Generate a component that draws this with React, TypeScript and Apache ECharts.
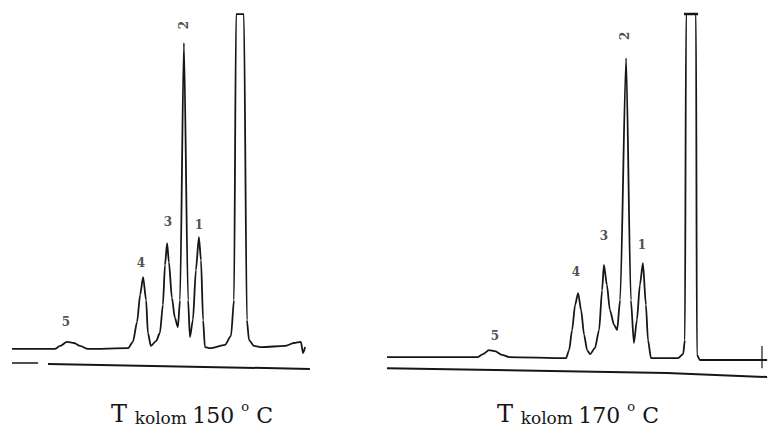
import React, { useEffect, useRef } from "react";
import * as echarts from "echarts";

// Retention time (min) / detector signal (relative units)
const trace150: [number, number][] = [
  [0, 8.4], [1.43, 8.4], [1.6, 9.2], [1.83, 10.3], [2.07, 10.0], [2.27, 9.2], [2.53, 8.4],
  [3.87, 8.6], [4.03, 10.3], [4.17, 15.7], [4.27, 23.0], [4.37, 27.8], [4.47, 21.6], [4.53, 12.7],
  [4.63, 9.2], [4.8, 10.5], [4.93, 12.7], [5.03, 20.3], [5.1, 31.1], [5.17, 37.0], [5.23, 31.9],
  [5.33, 22.2], [5.43, 16.8], [5.53, 14.3], [5.6, 21.6], [5.73, 91.1],
  [5.87, 21.6], [5.93, 11.6], [6.03, 16.2], [6.13, 29.7], [6.23, 38.6], [6.3, 32.4], [6.37, 16.2],
  [6.43, 8.9], [6.6, 8.6], [7.1, 9.5], [7.3, 11.9], [7.4, 21.6], [7.47, 98.9],
  [7.73, 98.9], [7.83, 16.2], [7.9, 10.8], [8.07, 9.2], [8.33, 8.9], [9.1, 9.2],
  [9.4, 10.0], [9.63, 10.3], [9.7, 7.3], [9.77, 8.9],
];
const base150: [number, number][] = [[1.2, 4.3], [9.93, 3.0]];
const base150Stub: [number, number][] = [[0, 4.6], [0.87, 4.6]];

const trace170: [number, number][] = [
  [0, 6.2], [3.03, 6.2], [3.2, 7.0], [3.4, 8.1], [3.6, 7.8], [3.83, 6.8], [4.07, 6.2],
  [5.97, 5.9], [6.07, 8.1], [6.17, 13.5], [6.27, 20.3], [6.37, 23.5], [6.47, 18.9], [6.57, 12.2],
  [6.67, 8.1], [6.77, 7.0], [6.93, 8.6], [7.07, 13.5], [7.17, 24.3], [7.23, 31.1], [7.33, 25.7],
  [7.43, 18.9], [7.57, 14.9], [7.67, 13.5], [7.77, 21.6], [7.97, 87.0],
  [8.13, 21.6], [8.23, 10.0], [8.33, 16.2], [8.43, 25.7], [8.53, 31.6], [8.63, 20.3], [8.7, 10.8],
  [8.8, 5.9], [9.7, 5.9], [9.87, 7.0], [9.93, 10.8], [9.97, 98.9], [10.3, 98.9],
  [10.33, 6.8], [10.43, 5.4], [12.67, 5.4],
];
const cap170: [number, number][] = [[9.9, 98.9], [10.37, 98.9]];
const tick170: [number, number][] = [[12.5, 9.2], [12.5, 3.2]];
const base170: [number, number][] = [[0, 3.2], [9.33, 1.9], [12.67, 0.8]];

// Peak numbers and where they are written
const peakNames = ["5", "4", "3", "2", "1"];
const peakLabelPos150: [number, number][] = [[1.8, 15.7], [4.3, 31.6], [5.2, 42.7], [5.73, 95.9], [6.23, 41.9]];
const peakLabelPos170: [number, number][] = [[3.6, 11.9], [6.3, 29.2], [7.23, 38.9], [7.93, 93.0], [8.5, 36.5]];

const titles = [
  { temp: "150", x: 192 },
  { temp: "170", x: 578 },
];

const INK = "#161616";

function lineSeries(data: [number, number][], idx: number, width: number, smooth: number | boolean) {
  return {
    type: "line",
    xAxisIndex: idx,
    yAxisIndex: idx,
    data,
    symbol: "none",
    smooth,
    smoothMonotone: "x",
    lineStyle: { color: INK, width },
    silent: true,
  };
}

function labelSeries(pos: [number, number][], idx: number) {
  return {
    type: "scatter",
    xAxisIndex: idx,
    yAxisIndex: idx,
    symbolSize: 1,
    itemStyle: { color: "rgba(0,0,0,0)" },
    silent: true,
    data: pos.map((p, i) => ({
      value: p,
      name: peakNames[i],
      label: { rotate: peakNames[i] === "2" ? 90 : 0 },
    })),
    label: {
      show: true,
      position: "inside",
      formatter: (p: any) => p.name,
      fontFamily: "DejaVu Serif",
      fontSize: 12,
      fontWeight: "bold",
      color: "#222",
    },
  };
}

export default function App() {
  const ref = useRef<HTMLDivElement>(null);
  useEffect(() => {
    if (!ref.current) return;
    const chart = echarts.init(ref.current, undefined, { renderer: "svg" });
    chart.setOption({
      animation: false,
      backgroundColor: "#ffffff",
      grid: [
        { left: 12, top: 10, width: 300, height: 370 },
        { left: 387, top: 10, width: 381, height: 370 },
      ],
      xAxis: [
        { type: "value", gridIndex: 0, min: 0, max: 10, show: false },
        { type: "value", gridIndex: 1, min: 0, max: 12.7, show: false },
      ],
      yAxis: [
        { type: "value", gridIndex: 0, min: 0, max: 100, show: false },
        { type: "value", gridIndex: 1, min: 0, max: 100, show: false },
      ],
      series: [
        lineSeries(trace150, 0, 1.8, 0.25),
        lineSeries(base150, 0, 2, false),
        lineSeries(base150Stub, 0, 1.5, false),
        labelSeries(peakLabelPos150, 0),
        lineSeries(trace170, 1, 1.8, 0.25),
        lineSeries(cap170, 1, 2.4, false),
        lineSeries(tick170, 1, 1.2, false),
        lineSeries(base170, 1, 2, false),
        labelSeries(peakLabelPos170, 1),
      ],
      graphic: titles.map((t) => ({
        type: "text",
        x: t.x,
        y: 426,
        style: {
          text: `{t|T }{k|kolom }{n|${t.temp} }{d|o}{n| C}`,
          align: "center",
          verticalAlign: "bottom",
          fill: INK,
          fontFamily: "DejaVu Serif",
          rich: {
            t: { fontSize: 24, fontFamily: "DejaVu Serif", fill: INK, verticalAlign: "bottom", lineHeight: 26 },
            k: { fontSize: 17, fontFamily: "DejaVu Serif", fill: INK, verticalAlign: "bottom", lineHeight: 26 },
            n: { fontSize: 22, fontFamily: "DejaVu Serif", fill: INK, verticalAlign: "bottom", lineHeight: 26 },
            d: { fontSize: 13, fontFamily: "DejaVu Serif", fill: INK, verticalAlign: "top", lineHeight: 26 },
          },
        },
      })),
    });
    return () => chart.dispose();
  }, []);
  return (
    <div
      ref={ref}
      style={{ position: "fixed", left: 0, top: 0, width: 768, height: 438, background: "#fff" }}
    />
  );
}
